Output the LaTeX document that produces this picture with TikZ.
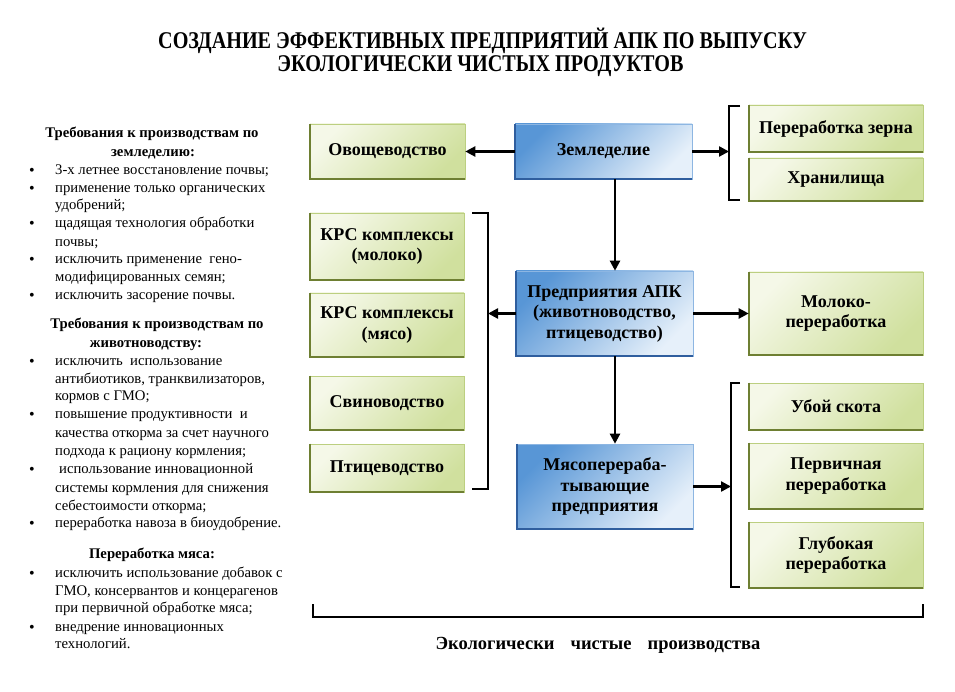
\documentclass[tikz,border=0pt]{standalone}
\usepackage{fontspec}
\setmainfont{Liberation Serif}
\newfontfamily\condfont[FakeStretch=0.84]{Liberation Serif}
\usetikzlibrary{arrows.meta}
\definecolor{gdark}{HTML}{6E7F32}
\definecolor{glight}{HTML}{F5F8E8}
\definecolor{gmid}{HTML}{D0E09E}
\definecolor{gline}{HTML}{BCCF80}
\definecolor{bdark}{HTML}{2F5E9E}
\definecolor{bmid}{HTML}{5896D6}
\definecolor{blight}{HTML}{E6F0FA}
\definecolor{bline}{HTML}{8DB6E2}
\begin{document}
\begin{tikzpicture}[x=1pt,y=-1pt,
  gbox/.style={draw=gline, line width=0.6pt, top color=glight, bottom color=gmid, shading angle=45,
    inner sep=0pt, align=center, font=\fontsize{18}{20.5}\selectfont\bfseries},
  bbox/.style={draw=bline, line width=0.6pt, top color=bmid, bottom color=blight, shading angle=45,
    inner sep=0pt, align=center, font=\fontsize{18}{20.5}\selectfont\bfseries},
  gedge/.style={draw=gdark, line width=2pt},
  bedge/.style={draw=bdark, line width=2pt},
  arr/.style={line width=2.3pt, -{Triangle[length=10pt,width=10pt]}},
  brk/.style={line width=2.3pt},
  ltxt/.style={anchor=base west, inner sep=0pt, font=\fontsize{14.7}{18}\selectfont},
  lhead/.style={anchor=base, inner sep=0pt, font=\fontsize{14.7}{18}\selectfont\bfseries},
  bul/.style={anchor=base, inner sep=0pt, font=\fontsize{16}{16}\selectfont},
  ttl/.style={anchor=base, inner sep=0pt, font=\condfont\bfseries\fontsize{24}{23}\selectfont}
]
\fill[white] (0,0) rectangle (955,692);
\useasboundingbox (0,0) rectangle (955,692);

% title
\node[ttl] (t1) at (482.5,49) {СОЗДАНИЕ ЭФФЕКТИВНЫХ ПРЕДПРИЯТИЙ АПК ПО ВЫПУСКУ};
\node[ttl] (t2) at (480.5,72) {ЭКОЛОГИЧЕСКИ ЧИСТЫХ ПРОДУКТОВ};

% left text
\node[lhead] (h1a) at (152,138) {Требования к производствам по};
\node[lhead] (h1b) at (153,157) {земледелию:};
\node[bul] (b1) at (32,176) {•}; \node[ltxt] (l1) at (55,175) {3-х летнее восстановление почвы;};
\node[bul] (b2) at (32,194) {•}; \node[ltxt] (l2) at (55,193) {применение только органических};
\node[ltxt] (l3) at (55,210) {удобрений;};
\node[bul] (b3) at (32,229) {•}; \node[ltxt] (l4) at (55,228) {щадящая технология обработки};
\node[ltxt] (l5) at (55,247) {почвы;};
\node[bul] (b4) at (32,265) {•}; \node[ltxt] (l6) at (55,264) {исключить применение\ \ гено-};
\node[ltxt] (l7) at (55,282) {модифицированных семян;};
\node[bul] (b5) at (32,301) {•}; \node[ltxt] (l8) at (55,300) {исключить засорение почвы.};

\node[lhead] (h2a) at (157,328) {Требования к производствам по};
\node[lhead] (h2b) at (146,347) {животноводству:};
\node[bul] (b6) at (32,366) {•}; \node[ltxt] (l9) at (55,365) {исключить\ \ использование};
\node[ltxt] (l10) at (55,383) {антибиотиков, транквилизаторов,};
\node[ltxt] (l11) at (55,400) {кормов с ГМО;};
\node[bul] (b7) at (32,419) {•}; \node[ltxt] (l12) at (55,418) {повышение продуктивности\ \ и};
\node[ltxt] (l13) at (55,437) {качества откорма за счет научного};
\node[ltxt] (l14) at (55,455) {подхода к рациону кормления;};
\node[bul] (b8) at (32,474) {•}; \node[ltxt] (l15) at (59,473) {использование инновационной};
\node[ltxt] (l16) at (55,492) {системы кормления для снижения};
\node[ltxt] (l17) at (55,510) {себестоимости откорма;};
\node[bul] (b9) at (32,528) {•}; \node[ltxt] (l18) at (55,527) {переработка навоза в биоудобрение.};

\node[lhead] (h3) at (152,558) {Переработка мяса:};
\node[bul] (b10) at (32,578) {•}; \node[ltxt] (l19) at (55,577) {исключить использование добавок с};
\node[ltxt] (l20) at (55,595) {ГМО, консервантов и концерагенов};
\node[ltxt] (l21) at (55,612) {при первичной обработке мяса;};
\node[bul] (b11) at (32,632) {•}; \node[ltxt] (l22) at (55,631) {внедрение инновационных};
\node[ltxt] (l23) at (55,648) {технологий.};

% boxes
\node[gbox, minimum width=155pt, minimum height=55pt] (ovo) at (387.5,151.5) {Овощеводство};
\node[bbox, minimum width=177pt, minimum height=55pt] (zem) at (603.5,151.5) {Земледелие};
\node[gbox, minimum width=174pt, minimum height=47pt] (pz) at (836,128.5) {Переработка зерна};
\node[gbox, minimum width=174pt, minimum height=43pt] (hr) at (836,179.5) {Хранилища};
\node[gbox, minimum width=154pt, minimum height=67pt] (krs1) at (387,246.5) {КРС комплексы\\(молоко)};
\node[gbox, minimum width=154pt, minimum height=64pt] (krs2) at (387,325) {КРС комплексы\\(мясо)};
\node[gbox, minimum width=154pt, minimum height=54pt] (svin) at (387,403) {Свиноводство};
\node[gbox, minimum width=154pt, minimum height=48pt] (ptic) at (387,468) {Птицеводство};
\node[bbox, minimum width=177pt, minimum height=85pt] (apk) at (604.5,313.5) {Предприятия АПК\\(животноводство,\\птицеводство)};
\node[gbox, minimum width=174pt, minimum height=83pt] (mol) at (836,313.5) {Молоко-\\переработка};
\node[bbox, minimum width=176pt, minimum height=85pt] (mya) at (605,486.5) {Мясоперераба-\\тывающие\\предприятия};
\node[gbox, minimum width=174pt, minimum height=47pt] (uboy) at (836,406.5) {Убой скота};
\node[gbox, minimum width=174pt, minimum height=66pt] (perv) at (836,476) {Первичная\\переработка};
\node[gbox, minimum width=174pt, minimum height=66pt] (glub) at (836,555) {Глубокая\\переработка};

% box edges
\foreach \n in {ovo,pz,hr,krs1,krs2,svin,ptic,mol,uboy,perv,glub}
  \draw[gedge] (\n.north west) -- (\n.south west) -- (\n.south east);
\foreach \n in {zem,apk,mya}
  \draw[bedge] (\n.north west) -- (\n.south west) -- (\n.south east);

% helper coordinates
\coordinate (vx) at (615,0);
\coordinate (rb1) at (729,0);
\coordinate (rb2) at (731,0);
\coordinate (lb) at (488,0);
\coordinate (rb1t) at (740,106);
\coordinate (rb1b) at (740,200);
\coordinate (lbt) at (472,213);
\coordinate (lbb) at (472,489);
\coordinate (rb2t) at (740,383);
\coordinate (rb2b) at (740,587);
\coordinate (bbl) at (313,604);
\coordinate (bbr) at (923,604);
\coordinate (bby) at (0,617);

% brackets
\draw[brk] (rb1t) -- (rb1t -| rb1) -- (rb1b -| rb1) -- (rb1b);
\draw[brk] (lbt) -- (lbt -| lb) -- (lbb -| lb) -- (lbb);
\draw[brk] (rb2t) -- (rb2t -| rb2) -- (rb2b -| rb2) -- (rb2b);
\draw[brk] (bbl) -- (bbl |- bby) -- (bbr |- bby) -- (bbr);

% arrows
\draw[arr] (zem.west) -- (ovo.east);
\draw[arr] (zem.east) -- (zem.east -| rb1);
\draw[arr] (zem.south -| vx) -- (apk.north -| vx);
\draw[arr] (apk.south -| vx) -- (mya.north -| vx);
\draw[arr] (apk.west) -- (apk.west -| lb);
\draw[arr] (apk.east) -- (mol.west);
\draw[arr] (mya.east) -- (mya.east -| rb2);

\node[anchor=base, inner sep=0pt, font=\fontsize{18.5}{20}\selectfont\bfseries] (eco) at (598,649) {Экологически\hspace{16pt}чистые\hspace{16pt}производства};
\end{tikzpicture}
\end{document}
